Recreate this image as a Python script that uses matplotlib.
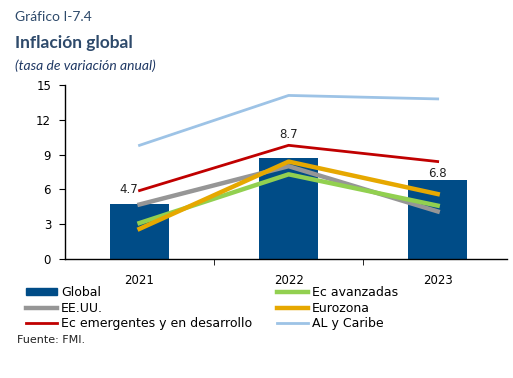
import matplotlib
matplotlib.use("Agg")
import matplotlib.pyplot as plt
from matplotlib.lines import Line2D
from matplotlib.patches import Patch

# data
years = ["2021", "2022", "2023"]
global_infl = [4.7, 8.7, 6.8]
ec_avanzadas = [3.1, 7.3, 4.6]
eeuu = [4.7, 8.0, 4.1]
eurozona = [2.6, 8.4, 5.6]
ec_emergentes = [5.9, 9.8, 8.4]
al_caribe = [9.8, 14.1, 13.8]
yticks = [0, 3, 6, 9, 12, 15]

# label offsets in points (dx, dy) for the bar value labels
label_offsets = [(-8, 11), (0, 17), (0, 5)]

BLUE = "#004C87"
GREEN = "#92D050"
GREY = "#969696"
ORANGE = "#E6A800"
RED = "#C00000"
LIGHT = "#9DC3E6"

plt.rcParams["font.family"] = "DejaVu Sans"

fig = plt.figure(figsize=(5.13, 3.78), dpi=100)
ax = fig.add_axes([65 / 513, 1 - 259 / 378, (507 - 65) / 513, (259 - 85) / 378])

x = list(range(len(years)))
ax.bar(x, global_infl, width=0.4, color=BLUE, zorder=1)
ax.plot(x, al_caribe, color=LIGHT, lw=2.0, zorder=2)
ax.plot(x, ec_emergentes, color=RED, lw=2.0, zorder=2)
ax.plot(x, eeuu, color=GREY, lw=3.2, zorder=3)
ax.plot(x, ec_avanzadas, color=GREEN, lw=3.2, zorder=3)
ax.plot(x, eurozona, color=ORANGE, lw=3.2, zorder=4)

for xi, v, off in zip(x, global_infl, label_offsets):
    ax.annotate(f"{v:.1f}", (xi, v), xytext=off, textcoords="offset points",
                ha="center", va="center", fontsize=8.5, color="#222222")

ax.set_xlim(-0.5, 2.465)
ax.set_ylim(0, 15)
ax.set_yticks(yticks)
ax.set_xticks(x)
ax.set_xticklabels(years)
ax.set_xticks([0.5, 1.5], minor=True)
ax.tick_params(axis="x", which="major", length=0, pad=11, labelsize=8.5)
ax.tick_params(axis="x", which="minor", length=4, direction="out")
ax.tick_params(axis="y", length=4, direction="out", pad=6, labelsize=8.5)
for s in ["top", "right"]:
    ax.spines[s].set_visible(False)
for s in ["left", "bottom"]:
    ax.spines[s].set_linewidth(1.0)

# titles
fig.text(15 / 513, 1 - 17 / 378, "Gráfico I-7.4", fontsize=10, family="Lato",
         color="#2E4A6B", va="center", ha="left")
fig.text(15 / 513, 1 - 43 / 378, "Inflación global", fontsize=12.5, family="Lato",
         weight="bold", color="#2E4A6B", va="center", ha="left")
fig.text(15 / 513, 1 - 66 / 378, "(tasa de variación anual)", fontsize=10, family="Lato",
         style="italic", color="#1F3864", va="center", ha="left")

# legend, column-major order
handles = [
    Patch(color=BLUE, label="Global"),
    Line2D([], [], color=GREY, lw=3.2, label="EE.UU."),
    Line2D([], [], color=RED, lw=2.0, label="Ec emergentes y en desarrollo"),
    Line2D([], [], color=GREEN, lw=3.2, label="Ec avanzadas"),
    Line2D([], [], color=ORANGE, lw=3.2, label="Eurozona"),
    Line2D([], [], color=LIGHT, lw=2.0, label="AL y Caribe"),
]
fig.legend(handles=handles, ncol=2, loc="upper left",
           bbox_to_anchor=(26 / 513, 1 - 286 / 378), frameon=False,
           fontsize=9, handlelength=2.5, handleheight=0.5, handletextpad=0.3,
           columnspacing=2.0, labelspacing=0.2, borderaxespad=0, borderpad=0)

fig.text(17 / 513, 1 - 340 / 378, "Fuente: FMI.", fontsize=8, color="#222222",
         va="center", ha="left")

fig.savefig("out.png", dpi=100)
